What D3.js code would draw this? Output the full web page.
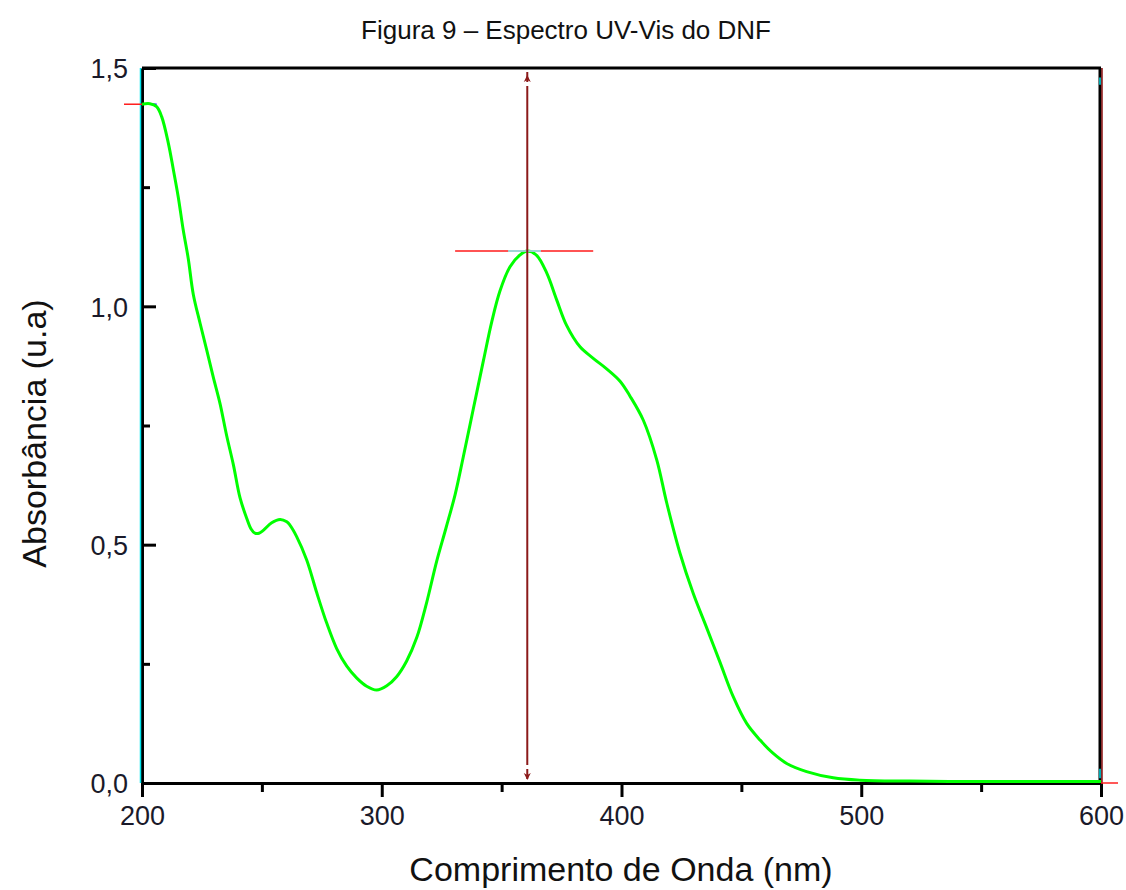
<!DOCTYPE html>
<html>
<head>
<meta charset="utf-8">
<script src="https://cdn.jsdelivr.net/npm/d3@7"></script>
<style>
  html, body { margin: 0; padding: 0; background: #fff; }
  svg { display: block; font-family: "Liberation Sans", Arial, sans-serif; }
</style>
</head>
<body>
<svg id="chart" width="1126" height="890"></svg>
<script>
// UV-Vis spectrum of DNF: wavelength (nm) and absorbance (a.u.)
const wavelength = [
  200, 203.3, 206.1, 208.2, 211.0, 213.1, 215.1, 217.2, 219.3, 221.4,
  224.2, 227.0, 229.7, 232.5, 235.3, 238.1, 240.9, 243.7, 245.5, 247.1,
  248.8, 250.6, 254.1, 257.6, 260.4, 261.7, 264.5, 268.7, 272.9, 277.0,
  281.2, 285.4, 289.6, 293.7, 297.9, 302.1, 306.2, 310.4, 314.6, 318.7,
  322.9, 326.8, 330.6, 334.0, 338.2, 342.4, 345.9, 349.3, 353.5, 357.7, 360.7,
  364.6, 368.8, 373.0, 377.1, 382.7, 388.2, 393.8, 399.4, 403.5, 409.1,
  414.7, 418.8, 424.4, 429.9, 435.5, 441.1, 446.6, 452.2, 457.8, 463.3,
  468.9, 477.2, 488.3, 499.5, 520, 550, 575, 600
];
const absorbance = [
  1.424, 1.425, 1.419, 1.398, 1.342, 1.286, 1.230, 1.160, 1.100, 1.025,
  0.965, 0.908, 0.852, 0.797, 0.729, 0.668, 0.598, 0.555, 0.533, 0.524,
  0.524, 0.530, 0.546, 0.553, 0.548, 0.541, 0.517, 0.468, 0.399, 0.336,
  0.282, 0.245, 0.220, 0.203, 0.195, 0.204, 0.223, 0.256, 0.305, 0.378,
  0.465, 0.535, 0.605, 0.684, 0.785, 0.886, 0.968, 1.032, 1.083, 1.108, 1.116,
  1.107, 1.070, 1.013, 0.960, 0.915, 0.891, 0.869, 0.843, 0.812, 0.761,
  0.678, 0.589, 0.482, 0.398, 0.326, 0.253, 0.181, 0.125, 0.090, 0.062,
  0.041, 0.024, 0.011, 0.006, 0.004, 0.003, 0.003, 0.003
];

// Axis ticks
const xMajorTicks = [200, 300, 400, 500, 600];
const xMinorTicks = [250, 350, 450, 550];
const yMajorTicks = [0.0, 0.5, 1.0, 1.5];
const yMinorTicks = [0.25, 0.75, 1.25];

// Peak marker (λmax)
const peakWavelength = [360.7];
const peakAbsorbance = [1.116];
const peakBarWavelengths = [330.6, 388.2];
const peakBarInner = [352.7, 366.4];

const titleText = "Figura 9 \u2013 Espectro UV-Vis do DNF";
const xLabelText = "Comprimento de Onda (nm)";
const yLabelText = "Absorb\u00e2ncia (u.a)";

const svg = d3.select("#chart");
const margin = { left: 142, right: 1101, top: 68, bottom: 783 };

const x = d3.scaleLinear().domain([200, 600]).range([margin.left, margin.right]);
const y = d3.scaleLinear().domain([0, 1.5]).range([margin.bottom, margin.top]);

const fmt = d => d3.format(".1f")(d).replace(".", ",");

// Title
svg.append("text")
  .attr("x", 566).attr("y", 39)
  .attr("text-anchor", "middle")
  .attr("font-size", 26)
  .attr("fill", "#111")
  .text(titleText);

// Frame: top and right edges
svg.append("line")
  .attr("x1", x(200)).attr("x2", x(600)).attr("y1", y(1.5)).attr("y2", y(1.5))
  .attr("stroke", "#000").attr("stroke-width", 3);
svg.append("line")
  .attr("x1", x(600) - 1).attr("x2", x(600) - 1).attr("y1", y(1.5)).attr("y2", y(0))
  .attr("stroke", "#000").attr("stroke-width", 3);
svg.append("line")
  .attr("x1", x(600) + 1).attr("x2", x(600) + 1).attr("y1", y(1.5)).attr("y2", y(0))
  .attr("stroke", "#8b1010").attr("stroke-width", 1.5);

// Bottom axis (ticks outward)
svg.append("g")
  .attr("transform", `translate(0,${y(0)})`)
  .call(d3.axisBottom(x).tickValues(xMajorTicks).tickSize(14).tickPadding(9)
    .tickSizeOuter(0).tickFormat(d3.format("d")));
svg.append("g")
  .attr("transform", `translate(0,${y(0)})`)
  .call(d3.axisBottom(x).tickValues(xMinorTicks).tickSize(9).tickSizeOuter(0).tickFormat(""))
  .call(g => g.select(".domain").remove());

// Left axis (ticks inward)
const yAxis = svg.append("g")
  .attr("transform", `translate(${x(200)},0)`)
  .call(d3.axisLeft(y).tickValues(yMajorTicks).tickSize(-14).tickPadding(14)
    .tickSizeOuter(0).tickFormat(fmt));
svg.append("g")
  .attr("transform", `translate(${x(200)},0)`)
  .call(d3.axisLeft(y).tickValues(yMinorTicks).tickSize(-8).tickSizeOuter(0).tickFormat(""))
  .call(g => g.select(".domain").remove());

svg.selectAll(".domain").attr("stroke", "#000").attr("stroke-width", 3);
svg.selectAll(".tick line").attr("stroke", "#000").attr("stroke-width", 3);
svg.selectAll(".tick text")
  .attr("font-family", "Liberation Sans, Arial, sans-serif")
  .attr("font-size", 27)
  .attr("fill", "#1a1a2a");
yAxis.selectAll(".tick text").attr("dy", "0.36em");

// Cyan guide along the left edge
svg.append("line")
  .attr("x1", x(200) - 1.5).attr("x2", x(200) - 1.5).attr("y1", y(1.5)).attr("y2", y(0))
  .attr("stroke", "#00e5ee").attr("stroke-width", 1.5);

// Axis titles
svg.append("text")
  .attr("x", 621).attr("y", 881)
  .attr("text-anchor", "middle")
  .attr("font-size", 34)
  .attr("fill", "#111")
  .text(xLabelText);
svg.append("text")
  .attr("transform", `translate(46,${(y(0) + y(1.5)) / 2 + 8}) rotate(-90)`)
  .attr("text-anchor", "middle")
  .attr("font-size", 34)
  .attr("fill", "#111")
  .text(yLabelText);

// Reader markers at the curve ends
svg.append("line")
  .attr("x1", x(200) - 18).attr("x2", x(200)).attr("y1", y(absorbance[0])).attr("y2", y(absorbance[0]))
  .attr("stroke", "#ff2020").attr("stroke-width", 1.5);
svg.append("line")
  .attr("x1", x(200)).attr("x2", x(206.1)).attr("y1", y(absorbance[0])).attr("y2", y(absorbance[0]))
  .attr("stroke", "#1010ff").attr("stroke-width", 1.5);
svg.append("line")
  .attr("x1", x(600)).attr("x2", x(600) + 17).attr("y1", y(0)).attr("y2", y(0))
  .attr("stroke", "#ff2020").attr("stroke-width", 1.5);
svg.append("line")
  .attr("x1", x(600) - 1).attr("x2", x(600) - 1).attr("y1", y(0.03)).attr("y2", y(0.01))
  .attr("stroke", "#00e5ee").attr("stroke-width", 1.5);
svg.append("line")
  .attr("x1", x(600) - 1).attr("x2", x(600) - 1).attr("y1", y(1.48)).attr("y2", y(1.465))
  .attr("stroke", "#00e5ee").attr("stroke-width", 1.5);

// Spectrum
const pts = wavelength.map((w, i) => [w, absorbance[i]]);
const line = d3.line().x(d => x(d[0])).y(d => y(d[1])).curve(d3.curveCatmullRom.alpha(0.5));
svg.append("path")
  .datum(pts)
  .attr("d", line)
  .attr("fill", "none")
  .attr("stroke", "#00ff00")
  .attr("stroke-width", 3)
  .attr("stroke-linejoin", "round");

// Peak crosshair
const px = x(peakWavelength[0]);
const py = y(peakAbsorbance[0]);
svg.append("line")
  .attr("x1", x(peakBarWavelengths[0])).attr("x2", x(peakBarWavelengths[1]))
  .attr("y1", py).attr("y2", py)
  .attr("stroke", "#ff1a1a").attr("stroke-width", 1.5);
svg.append("line")
  .attr("x1", x(peakBarInner[0])).attr("x2", x(peakBarInner[1]))
  .attr("y1", py).attr("y2", py)
  .attr("stroke", "#80ffff").attr("stroke-width", 1.5);

const arrowColor = "#8b1a1a";
svg.append("line")
  .attr("x1", px).attr("x2", px).attr("y1", y(1.5) + 18).attr("y2", y(0) - 18)
  .attr("stroke", arrowColor).attr("stroke-width", 2);
// arrowheads at both ends
const headUp = (cx, tipY) => `M${cx},${tipY} L${cx - 3.5},${tipY + 7} L${cx},${tipY + 5} L${cx + 3.5},${tipY + 7} Z`;
const headDown = (cx, tipY) => `M${cx},${tipY} L${cx - 3.5},${tipY - 7} L${cx},${tipY - 5} L${cx + 3.5},${tipY - 7} Z`;
svg.append("line")
  .attr("x1", px).attr("x2", px).attr("y1", y(1.5) + 4).attr("y2", y(1.5) + 14)
  .attr("stroke", arrowColor).attr("stroke-width", 2);
svg.append("path").attr("d", headUp(px, y(1.5) + 7)).attr("fill", arrowColor);
svg.append("line")
  .attr("x1", px).attr("x2", px).attr("y1", y(0) - 14).attr("y2", y(0) - 4)
  .attr("stroke", arrowColor).attr("stroke-width", 2);
svg.append("path").attr("d", headDown(px, y(0) - 3)).attr("fill", arrowColor);
</script>
</body>
</html>
